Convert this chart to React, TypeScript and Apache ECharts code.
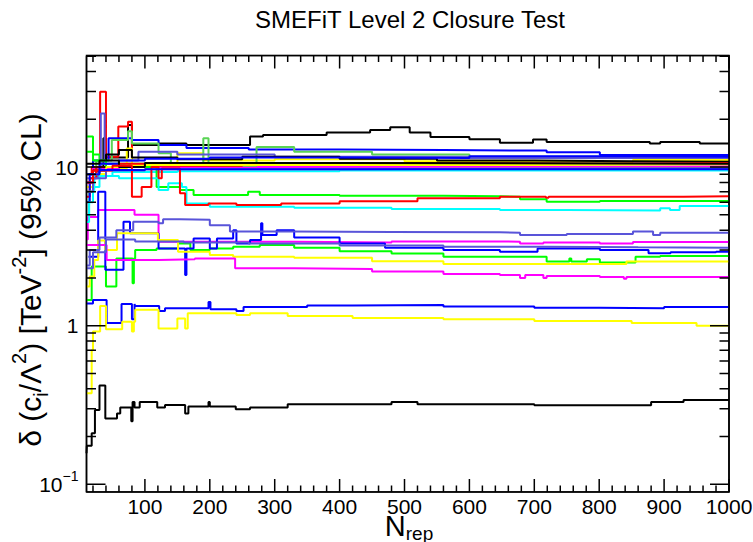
import React, { useEffect, useRef } from "react";
import * as echarts from "echarts";

const FONT = '"Liberation Sans", Arial, Helvetica, sans-serif';

// ---- layout of the frame (pixels) ----
const GRID_LEFT = 86.5;
const GRID_RIGHT = 24;
const GRID_TOP = 55.5;
const GRID_BOTTOM = 50;
const PLOT_W = 753 - GRID_LEFT - GRID_RIGHT;
const PLOT_H = 542 - GRID_TOP - GRID_BOTTOM;

// ---- axis ranges & ticks ----
const X_MIN = 10;
const X_MAX = 1000;
const Y_MIN = 0.0895;
const Y_MAX = 50.5;
const xMajorTicks = [100, 200, 300, 400, 500, 600, 700, 800, 900, 1000];
const xMinorTicks: number[] = [];
for (let v = 20; v < 1000; v += 20) if (v % 100 !== 0) xMinorTicks.push(v);
const yMajorTicks = [0.1, 1, 10];
const yMinorTicks = [0.2, 0.3, 0.4, 0.5, 0.6, 0.7, 0.8, 0.9, 2, 3, 4, 5, 6, 7, 8, 9, 20, 30, 40, 50];

// ---- ROOT palette ----
const C_BLACK = "#000000";
const C_RED = "#ff0000";
const C_GREEN = "#00ff00";
const C_BLUE = "#0000ff";
const C_YELLOW = "#ffff00";
const C_MAGENTA = "#ff00ff";
const C_CYAN = "#00ffff";
const C_GREEN8 = "#59d454";
const C_PURPLE9 = "#5954d9";

// ---- series: [N_rep, delta] change points (step lines) ----
const blackLow = [[10,0.157],[10.5,0.175],[18,0.21],[23,0.294],[30,0.42],[39,0.26],[57,0.28],[62,0.305],[79,0.25],[81,0.33],[84,0.305],[92,0.33],[119,0.305],[131,0.316],[162,0.28],[167,0.31],[198,0.33],[200,0.31],[240,0.297],[262,0.305],[320,0.32],[480,0.33],[520,0.32],[700,0.315],[880,0.33],[930,0.34],[1000,0.34]];
const yellowLow = [[10,0.375],[18,0.7],[20,0.92],[31,1.33],[40,0.95],[65,1.06],[80,0.92],[83,1.06],[85,1.26],[121,0.96],[150,1.11],[162,0.96],[166,1.2],[241,1.17],[262,1.2],[320,1.15],[420,1.12],[560,1.1],[700,1.07],[850,1.04],[950,1.0],[1000,1.0]];
const blueLow = [[10,1.38],[20,1.45],[41,1.04],[64,1.37],[80,1.1],[84,1.37],[85,1.33],[122,1.24],[131,1.29],[198,1.41],[201,1.27],[241,1.24],[252,1.31],[350,1.34],[420,1.35],[560,1.32],[700,1.3],[800,1.29],[900,1.31],[1000,1.31]];
const blueMid = [[13,2.72],[28,7.0],[39,2.25],[67,4.52],[77,3.82],[121,3.07],[162,2.09],[164,3.07],[175,3.55],[200,3.07],[211,3.55],[236,4.0],[241,3.3],[262,3.47],[279,4.43],[281,3.73],[303,4.0],[330,3.6],[400,3.3],[470,3.1],[560,3.0],[647,2.93],[705,3.07],[801,3.0],[876,2.86],[910,2.9],[980,2.93],[1000,2.93]];
const greenMid = [[10,1.45],[18,2.36],[40,1.77],[56,2.65],[81,1.85],[83,2.65],[85,3.0],[118,3.07],[151,3.3],[170,3.0],[200,3.07],[236,3.15],[277,3.23],[330,3.1],[400,2.95],[480,2.85],[560,2.72],[719,2.54],[754,2.65],[757,2.54],[781,2.62],[801,2.5],[856,2.72],[894,2.75],[1000,2.75]];
const yellowMid = [[10,1.77],[15,2.04],[22,2.6],[28,3.45],[39,3.0],[57,3.82],[120,3.47],[151,2.93],[200,2.79],[236,2.72],[330,2.68],[450,2.55],[560,2.45],[842,2.54],[1000,2.54]];
const magentaLow = [[10,3.23],[41,2.6],[121,2.62],[177,2.65],[239,2.3],[330,2.28],[450,2.2],[560,2.12],[647,2.09],[678,2.0],[686,2.09],[714,2.0],[719,2.06],[801,2.03],[838,1.98],[842,2.03],[1000,2.03]];
const magentaMid = [[10,3.5],[12,4.85],[28,5.37],[84,5.0],[121,3.38],[330,3.35],[480,3.4],[647,3.38],[678,3.3],[714,3.35],[801,3.3],[852,3.37],[1000,3.37]];
const purpleMid = [[10,2.4],[15,3.0],[30,3.6],[56,4.0],[82,4.52],[121,4.43],[128,4.69],[154,4.65],[200,4.3],[231,3.92],[330,3.9],[480,3.88],[647,3.86],[678,3.73],[750,3.78],[852,3.92],[883,3.73],[894,3.86],[1000,3.86]];
const purpleLow = [[10,2.3],[20,2.9],[40,3.5],[85,3.4],[160,3.35],[260,3.3],[400,3.2],[560,3.15],[720,3.12],[860,3.1],[1000,3.08]];
const cyanMid = [[10,4.5],[14,6.0],[20,7.5],[30,8.8],[60,8.5],[121,7.17],[136,7.9],[157,7.5],[164,5.9],[200,5.63],[330,5.55],[480,5.45],[647,5.37],[750,5.33],[894,5.5],[909,5.37],[924,5.68],[1000,5.68]];
const redMid = [[10,8.0],[20,9.5],[50,10.2],[80,6.5],[95,7.5],[110,10.0],[121,8.5],[126,9.8],[154,6.83],[162,5.77],[198,5.9],[241,5.77],[310,5.9],[400,6.1],[520,6.35],[647,6.5],[718,6.4],[722,6.5],[930,6.55],[1000,6.55]];
const greenMid2 = [[10,15.6],[20,11.0],[40,10.0],[118,7.5],[154,7.17],[175,6.67],[259,7.0],[277,6.67],[400,6.6],[560,6.55],[647,6.5],[678,6.27],[719,6.05],[801,6.12],[1000,6.12]];
const blackTop = [[10,9.0],[25,10.0],[36,15.2],[40,11.5],[74,18.4],[80,13.8],[121,14.1],[164,13.8],[262,15.6],[282,15.9],[380,16.5],[447,17.1],[478,17.8],[508,16.5],[540,15.5],[600,15.0],[647,14.25],[698,14.9],[719,14.4],[878,14.1],[894,14.4],[955,14.1],[1000,14.1]];
const blackMid = [[10,7.0],[20,9.5],[40,12.0],[60,12.8],[80,11.5],[150,11.2],[250,11.6],[400,11.3],[550,11.0],[700,10.9],[850,10.8],[1000,10.8]];
const blueTop = [[10,8.0],[20,11.0],[44,15.2],[80,14.8],[121,13.8],[164,13.2],[260,12.9],[400,12.8],[560,12.7],[719,12.4],[801,11.9],[1000,11.9]];
const blueMid2 = [[10,6.0],[15,9.0],[30,10.5],[60,11.0],[100,11.3],[200,11.5],[400,11.4],[600,11.7],[800,11.6],[1000,11.6]];
const purpleSpike = [[10,8.5],[28,9.5],[32,21.8],[38,10.5],[60,11.0],[90,12.5],[150,12.0],[300,11.6],[600,11.4],[1000,11.3]];
const yellowTop = [[10,7.5],[20,9.0],[40,9.8],[72,13.1],[80,10.3],[150,12.2],[190,11.0],[300,11.2],[500,10.9],[647,10.8],[852,11.1],[1000,11.1]];
const redSpike = [[10,9.0],[18,10.0],[31,29.8],[40,11.6],[59,18.0],[74,19.3],[80,10.3],[200,10.6],[350,10.4],[500,10.5],[700,10.4],[1000,10.3]];
const redMid2 = [[10,6.5],[15,8.5],[25,10.0],[60,10.5],[120,10.2],[250,10.4],[400,10.6],[600,10.5],[800,10.6],[1000,10.5]];
const greenTop = [[10,12.5],[20,12.0],[30,10.5],[100,10.0],[300,10.1],[600,10.0],[1000,10.0]];
const lightGreen = [[10,9.0],[25,11.0],[49,14.8],[74,16.8],[80,14.1],[121,12.2],[140,10.5],[190,15.2],[198,10.2],[272,13.4],[330,12.5],[450,12.0],[600,11.6],[800,11.4],[1000,11.4]];
const purpleCluster = [[10,7.0],[20,8.5],[40,9.5],[100,9.7],[400,9.8],[1000,9.7]];
const cyanCluster = [[10,5.0],[14,7.0],[22,8.8],[50,9.3],[150,9.4],[400,9.5],[1000,9.5]];
const magentaCluster = [[10,8.0],[20,9.8],[60,10.0],[200,10.1],[1000,10.0]];
const blueCluster = [[10,9.0],[30,9.6],[100,9.7],[1000,9.65]];
const blackCluster = [[10,10.5],[30,11.0],[60,10.0],[100,10.6],[400,10.5],[1000,10.6]];
const yellowCluster = [[10,7.0],[20,9.0],[40,10.0],[100,10.3],[700,10.4],[1000,10.3]];

const seriesDefs: [string, string, number[][]][] = [
  ["blackTop", C_BLACK, blackTop],
  ["redSpike", C_RED, redSpike],
  ["greenTop", C_GREEN, greenTop],
  ["blueTop", C_BLUE, blueTop],
  ["yellowTop", C_YELLOW, yellowTop],
  ["magentaCluster", C_MAGENTA, magentaCluster],
  ["cyanCluster", C_CYAN, cyanCluster],
  ["lightGreen", C_GREEN8, lightGreen],
  ["purpleSpike", C_PURPLE9, purpleSpike],
  ["blackMid", C_BLACK, blackMid],
  ["redMid2", C_RED, redMid2],
  ["greenMid2", C_GREEN, greenMid2],
  ["blueMid2", C_BLUE, blueMid2],
  ["yellowCluster", C_YELLOW, yellowCluster],
  ["magentaMid", C_MAGENTA, magentaMid],
  ["cyanMid", C_CYAN, cyanMid],
  ["purpleCluster", C_PURPLE9, purpleCluster],
  ["blackCluster", C_BLACK, blackCluster],
  ["redMid", C_RED, redMid],
  ["greenMid", C_GREEN, greenMid],
  ["blueMid", C_BLUE, blueMid],
  ["yellowMid", C_YELLOW, yellowMid],
  ["magentaLow", C_MAGENTA, magentaLow],
  ["purpleMid", C_PURPLE9, purpleMid],
  ["blueCluster", C_BLUE, blueCluster],
  ["purpleLow", C_PURPLE9, purpleLow],
  ["blackLow", C_BLACK, blackLow],
  ["blueLow", C_BLUE, blueLow],
  ["yellowLow", C_YELLOW, yellowLow],
];

function lineSeries(name: string, color: string, data: any[], width: number, step: any) {
  return {
    name,
    type: "line",
    xAxisIndex: 0,
    yAxisIndex: 0,
    step,
    showSymbol: false,
    symbol: "none",
    clip: true,
    data,
    lineStyle: { color, width },
    itemStyle: { color },
    emphasis: { disabled: true },
  };
}

// ROOT-style inward ticks: one "comb" polyline per frame side, running along the frame edge
type Tick = [number, number]; // [value, length px]
const xTicksAll: Tick[] = [
  ...xMajorTicks.map((v) => [v, 13] as Tick),
  ...xMinorTicks.map((v) => [v, 6.5] as Tick),
].sort((a, b) => a[0] - b[0]);
const yTicksAll: Tick[] = [
  ...yMajorTicks.map((v) => [v, 19] as Tick),
  ...yMinorTicks.map((v) => [v, 9.5] as Tick),
].sort((a, b) => a[0] - b[0]);

function xComb(base: number, inward: 1 | -1) {
  const pts: number[][] = [[X_MIN, base]];
  xTicksAll.forEach(([v, len]) => {
    const f = Math.pow(Y_MAX / Y_MIN, len / PLOT_H);
    const tip = inward > 0 ? base * f : base / f;
    pts.push([v, base], [v, tip], [v, base]);
  });
  pts.push([X_MAX, base]);
  return pts;
}
function yComb(base: number, inward: 1 | -1) {
  const pts: number[][] = [[base, Y_MIN]];
  yTicksAll.forEach(([v, len]) => {
    const d = (len / PLOT_W) * (X_MAX - X_MIN);
    pts.push([base, v], [base + inward * d, v], [base, v]);
  });
  pts.push([base, Y_MAX]);
  return pts;
}

export default function App() {
  const ref = useRef<HTMLDivElement>(null);
  useEffect(() => {
    document.body.style.margin = "0";
    const chart = echarts.init(ref.current!, null, { renderer: "svg" });

    const option: any = {
      animation: false,
      backgroundColor: "#fff",
      grid: {
        left: GRID_LEFT, right: GRID_RIGHT, top: GRID_TOP, bottom: GRID_BOTTOM,
        show: true, borderColor: "#000", borderWidth: 1.5, backgroundColor: "transparent",
        outerBoundsMode: "none", containLabel: false,
      },
      xAxis: {
        type: "value",
        min: X_MIN,
        max: X_MAX,
        axisLine: { show: false },
        axisTick: { show: false },
        splitLine: { show: false },
        axisLabel: {
          show: true, customValues: xMajorTicks, margin: 4, fontSize: 21, fontFamily: FONT, color: "#000",
          formatter: (v: number) => String(Math.round(v)),
        },
      },
      yAxis: {
        type: "log",
        logBase: 10,
        min: Y_MIN,
        max: Y_MAX,
        axisLine: { show: false },
        axisTick: { show: false },
        splitLine: { show: false },
        axisLabel: {
          show: true, customValues: yMajorTicks, margin: 8, fontSize: 21, fontFamily: FONT, color: "#000",
          formatter: (v: number) => {
            if (Math.abs(v - 0.1) < 1e-6) return "{b|10}{s|\u22121}";
            return "{b|" + String(Math.round(v)) + "}";
          },
          rich: {
            b: { fontSize: 21, fontFamily: FONT, color: "#000", lineHeight: 30 },
            s: { fontSize: 14, fontFamily: FONT, color: "#000", lineHeight: 14, verticalAlign: "top" },
          },
        },
      },
      graphic: [
        {
          type: "text", x: 410, y: 19, silent: true,
          style: {
            text: "SMEFiT Level 2 Closure Test", fontSize: 24, fontFamily: FONT, fill: "#000",
            align: "center", verticalAlign: "middle", textAlign: "center", textVerticalAlign: "middle",
          },
        },
        {
          type: "text", x: 409, y: 526, silent: true,
          style: {
            text: "{n|N}{r|rep}", fill: "#000",
            align: "center", verticalAlign: "middle", textAlign: "center", textVerticalAlign: "middle",
            rich: {
              n: { fontSize: 29, fontFamily: FONT, fill: "#000", lineHeight: 34 },
              r: { fontSize: 19, fontFamily: FONT, fill: "#000", lineHeight: 19, verticalAlign: "bottom" },
            },
          },
        },
        {
          type: "text", x: 30, y: 280, rotation: Math.PI / 2, silent: true,
          style: {
            text: "{a|\u03b4 (c}{sub|i}{a|/\u039b}{sup|2}{a|) [TeV}{sup|-2}{a|] (95% CL)}",
            fill: "#000",
            align: "center", verticalAlign: "middle", textAlign: "center", textVerticalAlign: "middle",
            rich: {
              a: { fontSize: 30, fontFamily: FONT, fill: "#000", lineHeight: 42 },
              sup: { fontSize: 20, fontFamily: FONT, fill: "#000", lineHeight: 20, verticalAlign: "top" },
              sub: { fontSize: 20, fontFamily: FONT, fill: "#000", lineHeight: 20, verticalAlign: "bottom" },
            },
          },
        },
      ],
      series: [
        ...seriesDefs.map(([name, color, data]) => lineSeries(name, color, data, 2, "end")),
        lineSeries("ticksBottom", C_BLACK, xComb(Y_MIN, 1), 1.5, false),
        lineSeries("ticksTop", C_BLACK, xComb(Y_MAX, -1), 1.5, false),
        lineSeries("ticksLeft", C_BLACK, yComb(X_MIN, 1), 1.5, false),
        lineSeries("ticksRight", C_BLACK, yComb(X_MAX, -1), 1.5, false),
      ],
    };

    chart.setOption(option);
    return () => chart.dispose();
  }, []);
  return <div ref={ref} style={{ width: 753, height: 542 }} />;
}
